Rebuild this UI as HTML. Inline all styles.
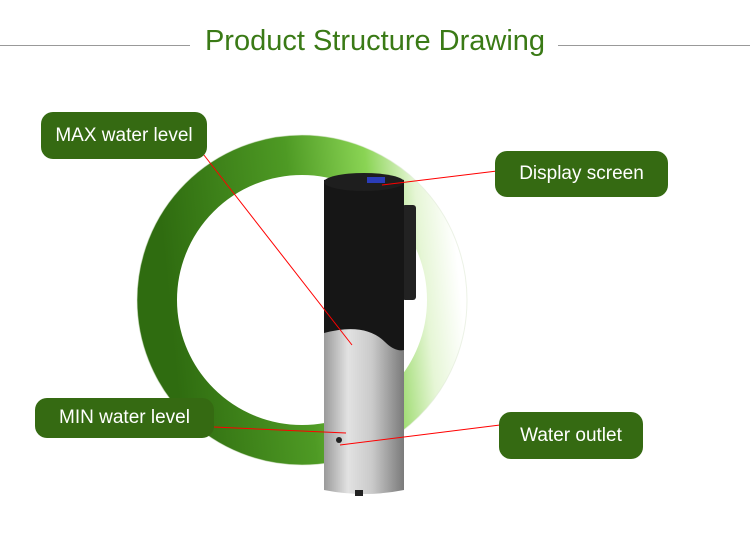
<!DOCTYPE html>
<html><head><style>
body{margin:0;width:750px;height:545px;background:#fff;position:relative;overflow:hidden;font-family:"Liberation Sans",sans-serif}
.t{position:absolute;top:25px;left:0;width:750px;text-align:center;font-size:29px;color:#3a7a16}
.hl{position:absolute;top:45px;height:1px;background:#999}
.lb{position:absolute;background:#356a12;color:#fff;border-radius:12px;font-size:19px;display:flex;align-items:center;justify-content:center}
</style></head><body>
<div class="hl" style="left:0;width:190px"></div>
<div class="hl" style="left:558px;width:192px"></div>
<div class="t">Product Structure Drawing</div>
<svg width="750" height="545" style="position:absolute;left:0;top:0">
<defs>
<linearGradient id="g" x1="0" y1="0.1" x2="1" y2="0">
<stop offset="0" stop-color="#2f6c10"/><stop offset="0.45" stop-color="#4e9a24"/><stop offset="0.72" stop-color="#8ad454"/><stop offset="0.88" stop-color="#e6f6d6"/><stop offset="1" stop-color="#fff"/></linearGradient>
<linearGradient id="s" x1="0" y1="0" x2="1" y2="0">
<stop offset="0" stop-color="#9a9a9a"/><stop offset="0.3" stop-color="#e2e2e2"/><stop offset="0.6" stop-color="#cacaca"/><stop offset="1" stop-color="#7a7a7a"/></linearGradient>
</defs>
<circle cx="302" cy="300" r="145" fill="none" stroke="url(#g)" stroke-width="40"/>
<circle cx="302" cy="300" r="165" fill="none" stroke="#dfe9d5" stroke-width="1" opacity="0.6"/>
<rect x="402" y="205" width="14" height="95" rx="3" fill="#222"/>
<path d="M324 180 Q364 170 404 180 L404 490 Q364 498 324 490Z" fill="url(#s)"/>
<path d="M324 180 Q364 170 404 180 L404 350 Q395 352 385 342 Q365 322 324 333Z" fill="#161616"/>
<ellipse cx="364" cy="182" rx="40" ry="9" fill="#1e1e1e"/>
<rect x="367" y="177" width="18" height="6" fill="#2b3db8"/>
<circle cx="339" cy="440" r="3" fill="#222"/>
<rect x="355" y="490" width="8" height="6" fill="#222"/>
<g stroke="#f00" stroke-width="1">
<line x1="200" y1="150" x2="352" y2="345"/>
<line x1="497" y1="171" x2="382" y2="185"/>
<line x1="214" y1="427" x2="346" y2="433"/>
<line x1="500" y1="425" x2="340" y2="445"/>
</g>
</svg>
<div class="lb" style="left:41px;top:112px;width:166px;height:47px">MAX water level</div>
<div class="lb" style="left:495px;top:151px;width:173px;height:46px">Display screen</div>
<div class="lb" style="left:35px;top:398px;width:179px;height:40px">MIN water level</div>
<div class="lb" style="left:499px;top:412px;width:144px;height:47px">Water outlet</div>
</body></html>
